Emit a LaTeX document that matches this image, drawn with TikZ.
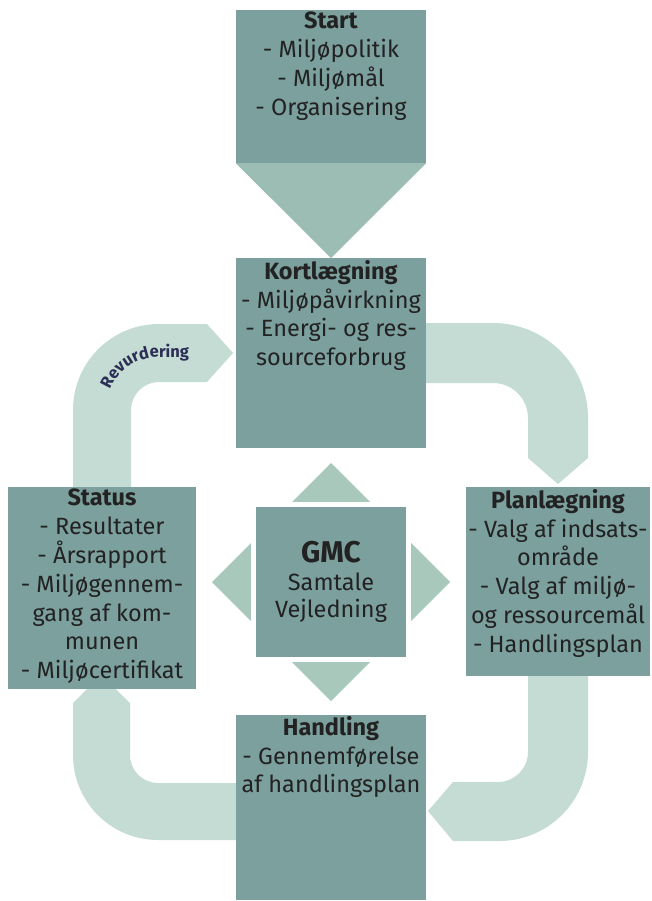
\documentclass[tikz,border=0pt]{standalone}
\usepackage{fontspec}
\setmainfont{Fira Sans}
\usetikzlibrary{decorations.text}
\definecolor{boxcol}{HTML}{7BA09D}
\definecolor{tricol}{HTML}{9CBDB4}
\definecolor{diacol}{HTML}{A8C8BC}
\definecolor{arrcol}{HTML}{C4DCD3}
\definecolor{txtcol}{HTML}{222222}
\definecolor{revcol}{HTML}{2B2D55}
\begin{document}
\begin{tikzpicture}[x=1pt,y=-1pt,
  panel/.style={fill=boxcol, draw=none, inner sep=0pt, rectangle},
  band/.style={fill=arrcol, draw=none},
  txt/.style={inner sep=0pt, align=center, text=txtcol, font=\fontsize{23.5}{28.8}\selectfont, anchor=north},
  gtxt/.style={inner sep=0pt, text=txtcol, anchor=base},
]
\useasboundingbox (0,0) rectangle (652,901);
\fill[white] (0,0) rectangle (652,901);

% curved block arrows
\path[band] (73,495) -- (73,410) arc[start angle=180, end angle=270, radius=86]
  -- (207,324) -- (233,353) -- (207,382) -- (159,382)
  arc[start angle=270, end angle=180, radius=28] -- (131,495) -- cycle;
\path[band] (420,323) -- (493,323) arc[start angle=270, end angle=360, radius=95]
  -- (588,458) -- (558,484) -- (528,458) -- (528,418)
  arc[start angle=360, end angle=270, radius=35] -- (420,383) -- cycle;
\path[band] (588,670) -- (588,752) arc[start angle=0, end angle=90, radius=89]
  -- (453,841) -- (428,811) -- (453,782) -- (498,782)
  arc[start angle=90, end angle=0, radius=30] -- (528,670) -- cycle;
\path[band] (240,840) -- (158,840) arc[start angle=90, end angle=180, radius=85]
  -- (73,703) -- (101,675) -- (130,703) -- (130,755)
  arc[start angle=180, end angle=90, radius=28] -- (240,783) -- cycle;

% boxes
\node[panel, minimum width=190pt, minimum height=153pt] (start) at (331,86.5) {};
\fill[tricol] (start.south west) -- (start.south east) -- (331,258) -- cycle;
\node[panel, minimum width=190pt, minimum height=190pt] (kort) at (331,353) {};
\node[panel, minimum width=188pt, minimum height=202pt] (status) at (102,588) {};
\node[panel, minimum width=184pt, minimum height=189pt] (plan) at (558,581.5) {};
\node[panel, minimum width=190pt, minimum height=185pt] (hand) at (331,807.5) {};

% centre diamond
\fill[diacol] (331,463) -- (450,582) -- (331,701) -- (212,582) -- cycle;
\fill[white] (251,502) rectangle (411,662);
\node[panel, minimum width=150pt, minimum height=150pt] (gmc) at (331,582) {};

% texts
\node[txt] (startT) at (331,12) {\textbf{Start}\\- Miljøpolitik\\- Miljømål\\- Organisering};
\node[txt] (kortT) at (331,260) {\textbf{Kortlægning}\\- Miljøpåvirkning\\- Energi- og res-\\sourceforbrug};
\node[txt] (statusT) at (102,489) {\textbf{Status}\\- Resultater\\- Årsrapport\\- Miljøgennem-\\gang af kom-\\munen\\- Miljøcertifikat};
\node[txt] (planT) at (558,489) {\textbf{Planlægning}\\- Valg af indsats-\\område\\- Valg af miljø-\\og ressourcemål\\- Handlingsplan};
\node[txt] (handT) at (331,716) {\textbf{Handling}\\- Gennemførelse\\af handlingsplan};

\node[gtxt, font=\fontsize{30}{30}\selectfont\bfseries] (gmcT) at (331,562) {GMC};
\node[gtxt, font=\fontsize{23.5}{23.5}\selectfont] (gmcS) at (331,590) {Samtale};
\node[gtxt, font=\fontsize{23.5}{23.5}\selectfont] (gmcV) at (331,617) {Vejledning};

% curved label
\path[decorate, decoration={text along path, text align=center,
  text={|\fontsize{16.5}{16.5}\selectfont\bfseries\color{revcol}|Revurdering}}]
  (159,410) ++(186:53) arc[start angle=186, end angle=270, radius=53] -- (204,357);
\end{tikzpicture}
\end{document}
